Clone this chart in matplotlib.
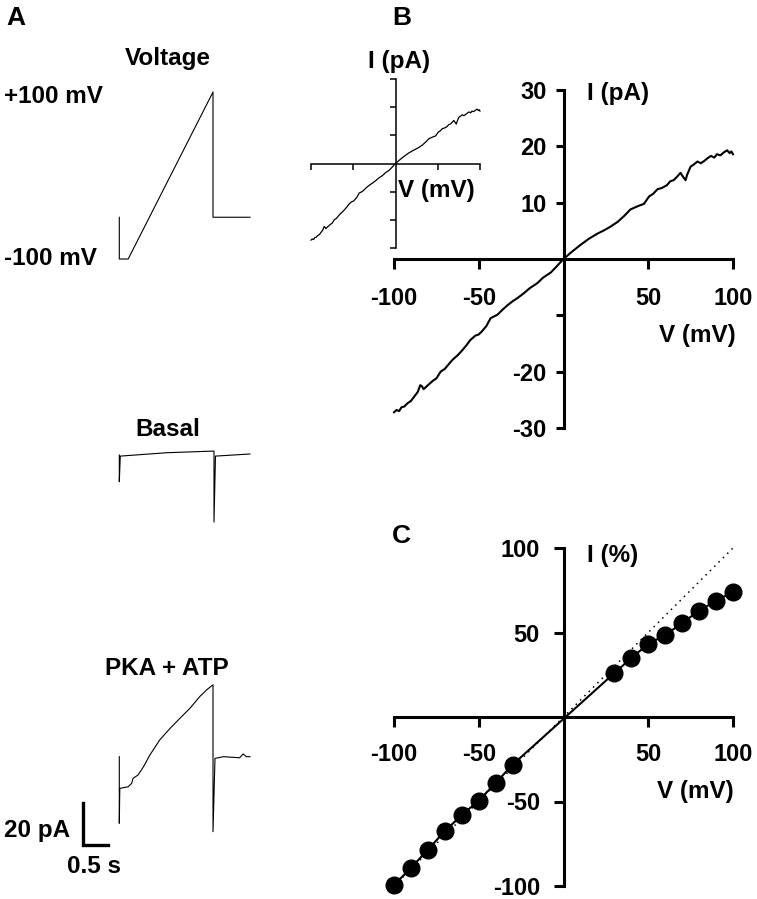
import numpy as np
import matplotlib
matplotlib.use('Agg')
import matplotlib.pyplot as plt

plt.rcParams['font.family'] = ['Liberation Sans', 'DejaVu Sans']
plt.rcParams['font.weight'] = 'bold'
plt.rcParams['axes.unicode_minus'] = False

# ---- panel A: voltage protocol and current traces ----
volt_t = [0, 0, 0.18, 1.90, 1.90, 2.65]
volt_mv = [-50, -100, -100, 100, -50, -50]

basal_t = [0, 0, 0.02, 0.96, 1.92, 1.92, 1.95, 2.65]
basal_pa = [-0.5, -13.2, -1.0, 0.6, 1.4, -32.4, -1.0, 0.0]

pka_t = [0, 0, 0.01, 0.18, 0.25, 0.28, 0.38, 0.49, 0.62, 0.82, 1.03, 1.23,
         1.43, 1.63, 1.77, 1.87, 1.90, 1.90, 1.94, 2.11, 2.44, 2.51, 2.58, 2.65]
pka_pa = [0, -31.7, -15.1, -14.3, -12.7, -10.3, -8.7, -4.8, 0.8, 8.0, 13.5, 18.3,
          23.0, 28.6, 31.8, 33.7, 34.2, -35.7, -0.8, 0.0, -0.5, 1.3, 0.0, 0.0]

scale_t = 0.5   # s
scale_i = 20    # pA

# ---- panel B: I-V from the ramp ----
iv_v = [-100, -98.5, -97, -95.5, -94, -92, -90, -88, -86, -84.5, -83.5, -82.5,
        -80, -77, -75, -72.5, -70, -67.5, -65.5, -62.5, -60, -57.5, -55, -52,
        -50, -48, -45.5, -43, -41, -39, -36, -33, -30, -27, -23.5, -20, -15.5,
        -12, -7.5, -4, 0, 5, 10, 15, 20, 24, 27.5, 32, 36, 39.5, 44, 47.5, 50.5,
        53, 55.5, 58, 61, 63, 65, 67, 69, 70.5, 72, 73, 75, 77, 79, 81, 83, 85,
        87, 89, 90.5, 92.5, 94.5, 96.5, 98, 99, 100]
iv_i = [-27.2, -26.8, -27.0, -26.3, -26.2, -25.6, -25.2, -24.4, -23.6, -22.4,
        -22.6, -23.1, -22.4, -21.6, -21.2, -20.0, -19.5, -18.6, -17.9, -17.1,
        -16.3, -15.4, -14.4, -13.6, -13.4, -12.8, -11.9, -10.5, -10.2, -9.9,
        -9.0, -8.2, -7.5, -6.9, -6.1, -5.2, -4.3, -3.3, -2.4, -1.3, 0, 1.3, 2.5,
        3.6, 4.5, 5.1, 5.7, 6.6, 7.7, 8.8, 9.4, 9.8, 11.1, 11.6, 12.4, 12.6,
        13.1, 13.8, 14.0, 14.6, 15.3, 14.6, 14.0, 15.0, 16.4, 16.8, 17.3, 17.0,
        17.4, 17.9, 18.3, 18.0, 18.6, 18.4, 18.9, 19.3, 18.8, 19.1, 18.6]

# ---- panel C: normalised I-V ----
c_v = [-100, -90, -80, -70, -60, -50, -40, -30, 30, 40, 50, 60, 70, 80, 90, 100]
c_i = [-99.4, -89.3, -78.5, -67.5, -58.0, -49.5, -39.0, -28.2,
       26.0, 34.9, 43.2, 48.5, 55.6, 62.9, 68.8, 74.1]
ohmic_v = [-100, 100]
ohmic_i = [-100, 100]

W, H = 757, 899
fig = plt.figure(figsize=(W / 100, H / 100), dpi=100)

FS = 17.5      # labels
TS = 17        # tick labels
PS = 19        # panel letters


def box(x0, y0, x1, y1):
    return [x0 / W, 1 - y1 / H, (x1 - x0) / W, (y1 - y0) / H]


def ftext(x, y, s, size=FS, ha='left'):
    fig.text(x / W, 1 - y / H, s, fontsize=size, ha=ha, va='baseline',
             fontweight='bold')


# panel A
ax_v = fig.add_axes(box(119.3, 92, 250, 259))
ax_v.plot(volt_t, volt_mv, color='black', lw=0.8, clip_on=False)
ax_v.set_xlim(0, 2.65)
ax_v.set_ylim(-100, 100)
ax_v.axis('off')

px_per_pa = 2.1
ax_b = fig.add_axes(box(119.3, 440, 250, 530))
ax_b.plot(basal_t, basal_pa, color='black', lw=0.8, clip_on=False)
ax_b.set_xlim(0, 2.65)
ax_b.set_ylim((454 - 530) / px_per_pa, (454 - 440) / px_per_pa)
ax_b.axis('off')

ax_p = fig.add_axes(box(119.3, 640, 250, 860))
ax_p.plot(pka_t, pka_pa, color='black', lw=0.8, clip_on=False)
ax_p.set_xlim(0, 2.65)
ax_p.set_ylim((756.7 - 860) / px_per_pa, (756.7 - 640) / px_per_pa)
ax_p.axis('off')
# scale bar
x0, y0 = -0.735, -42.0
ax_p.plot([x0, x0, x0 + scale_t], [y0 + scale_i, y0, y0], color='black',
          lw=2.4, solid_joinstyle='miter', clip_on=False)

ftext(6, 25, 'A', size=PS)
ftext(168, 65, 'Voltage', ha='center')
ftext(4, 103, '+100 mV')
ftext(4, 265, '-100 mV')
ftext(168, 436, 'Basal', ha='center')
ftext(167, 675, 'PKA + ATP', ha='center')
ftext(4, 837, '%d pA' % scale_i)
ftext(67, 873, '%.1f s' % scale_t)


def cross_axes(ax, lw):
    ax.spines['left'].set_position(('data', 0))
    ax.spines['bottom'].set_position(('data', 0))
    ax.spines['right'].set_visible(False)
    ax.spines['top'].set_visible(False)
    ax.spines['left'].set_linewidth(lw)
    ax.spines['bottom'].set_linewidth(lw)
    ax.patch.set_alpha(0)


# panel B main
ax1 = fig.add_axes(box(394, 90, 733, 428))
ax1.plot(iv_v, iv_i, color='black', lw=1.5, clip_on=False)
ax1.set_xlim(-100, 100)
ax1.set_ylim(-30, 30)
cross_axes(ax1, 2.2)
ax1.set_xticks([-100, -50, 50, 100])
ax1.set_yticks([-30, -20, -10, 10, 20, 30])
ax1.set_yticklabels(['-30', '-20', '', '10', '20', '30'])
ax1.tick_params(axis='x', direction='out', length=7, width=2.2, pad=13, labelsize=TS)
ax1.tick_params(axis='y', direction='out', length=6, width=2.2, pad=6, labelsize=TS)
ftext(587, 100, 'I (pA)')
ftext(736, 342, 'V (mV)', ha='right')
ftext(392, 25, 'B', size=PS)

# panel B inset
ax2 = fig.add_axes(box(311, 79, 480, 248))
ax2.plot(iv_v, iv_i, color='black', lw=0.9, clip_on=False)
ax2.set_xlim(-100, 100)
ax2.set_ylim(-30, 30)
cross_axes(ax2, 1.1)
ax2.set_xticks([-100, -50, 50, 100])
ax2.set_yticks([-30, -20, -10, 10, 20, 30])
ax2.tick_params(direction='out', length=4, width=1.1, labelbottom=False,
                labelleft=False)
ftext(368, 68, 'I (pA)')
ftext(398, 197, 'V (mV)')

# panel C
ax3 = fig.add_axes(box(394, 548, 733, 886))
ax3.plot(ohmic_v, ohmic_i, color='black', lw=1.1, linestyle=(0, (1, 3)))
ax3.plot(c_v, c_i, color='black', lw=1.5, marker='o', markersize=12,
         clip_on=False, zorder=3)
ax3.set_xlim(-100, 100)
ax3.set_ylim(-100, 100)
cross_axes(ax3, 2.2)
ax3.set_xticks([-100, -50, 50, 100])
ax3.set_yticks([-100, -50, 50, 100])
ax3.tick_params(axis='x', direction='out', length=7, width=2.2, pad=12, labelsize=TS)
ax3.tick_params(axis='y', direction='out', length=7, width=2.2, pad=10, labelsize=TS)
ftext(587, 562, 'I (%)')
ftext(734, 798, 'V (mV)', ha='right')
ftext(392, 543, 'C', size=PS)

fig.savefig('out.png', dpi=100)
